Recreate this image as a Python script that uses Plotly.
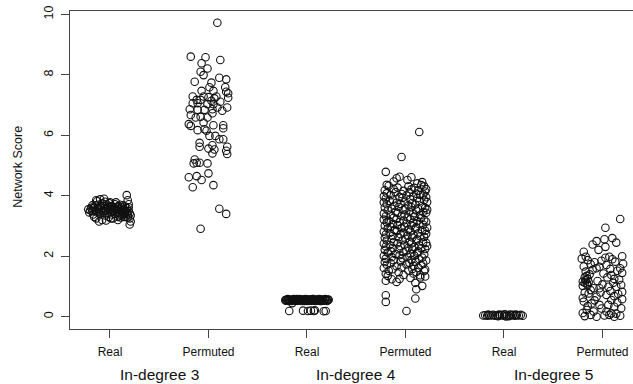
import plotly.graph_objects as go

categories = ["Real", "Permuted", "Real", "Permuted", "Real", "Permuted"]
groups = ["In-degree 3", "In-degree 4", "In-degree 5"]
y_ticks = [0, 2, 4, 6, 8, 10]

# (jitter in category units, network score)
real3 = [(-0.22,3.55),(-0.21,3.45),(-0.19,3.6),(-0.18,3.5),(-0.17,3.38),(-0.16,3.62),(-0.15,3.52),(-0.14,3.25),
         (-0.13,3.45),(-0.12,3.7),(-0.11,3.58),(-0.10,3.4),(-0.09,3.65),(-0.08,3.75),(-0.08,3.2),(-0.07,3.5),
         (-0.06,3.6),(-0.05,3.35),(-0.05,3.8),(-0.04,3.55),(-0.03,3.7),(-0.02,3.45),(-0.02,3.62),(-0.01,3.3),
         (0.0,3.55),(0.0,3.78),(0.01,3.45),(0.02,3.65),(0.03,3.25),(0.03,3.5),(0.04,3.6),(0.05,3.4),(0.05,3.72),
         (0.06,3.55),(0.07,3.48),(0.08,3.65),(0.08,3.3),(0.09,3.58),(0.10,3.42),(0.10,3.7),(0.11,3.5),(0.12,3.62),
         (0.12,3.35),(0.13,3.45),(0.14,3.55),(0.14,3.3),(0.15,3.65),(0.15,3.4),(0.16,3.5),(0.16,3.3),(0.17,4.02),
         (0.17,3.6),(0.18,3.85),(0.18,3.38),(0.19,3.72),(0.19,3.5),(0.20,3.25),(0.20,3.42),(0.20,3.05),(0.21,3.35),
         (0.21,3.15),(-0.13,3.82),(-0.14,3.85),(-0.10,3.88),(-0.06,3.9),(-0.11,3.15),(-0.04,3.18),(-0.16,3.3),
         (-0.18,3.68),(0.06,3.78),(0.01,3.25),(0.08,3.2),(0.11,3.28),(-0.03,3.6),(-0.07,3.45),
         (-0.20,3.52),(-0.15,3.68),(-0.12,3.55),(-0.09,3.48),(-0.06,3.72),(-0.03,3.42),(0.00,3.65),(0.02,3.38),
         (0.04,3.52),(0.07,3.62),(0.09,3.45),(0.11,3.58),(0.13,3.68),(0.15,3.52),(0.17,3.45),(0.18,3.28),
         (-0.10,3.62),(-0.05,3.5),(0.05,3.58),(0.10,3.35),(-0.17,3.58),(-0.01,3.75),(0.13,3.4),(0.19,3.62)]

perm3 = [(0.09,9.72),(-0.18,8.60),(-0.03,8.58),(0.12,8.49),(-0.07,8.38),(-0.01,8.21),(-0.08,8.10),(-0.05,7.99),
         (0.11,7.90),(0.18,7.85),(-0.14,7.77),(0.03,7.74),(0.01,7.59),(0.17,7.59),(0.05,7.47),(-0.07,7.47),
         (0.18,7.44),(0.20,7.39),(-0.16,7.28),(-0.05,7.28),(0.00,7.26),(0.08,7.28),(-0.12,7.17),(-0.08,7.17),
         (0.03,7.14),(0.06,7.22),(0.20,7.24),(0.12,7.11),(-0.16,7.06),(-0.11,7.06),(-0.01,7.03),(0.05,7.03),
         (0.09,6.92),(0.19,6.92),(-0.19,6.86),(-0.11,6.84),(-0.04,6.84),(0.04,6.86),(0.14,6.81),(-0.18,6.67),
         (-0.08,6.61),(-0.13,6.59),(-0.01,6.59),(0.04,6.73),(-0.05,6.42),(-0.20,6.37),(-0.18,6.31),(-0.11,6.17),
         (-0.04,6.20),(0.05,6.33),(0.15,6.33),(-0.02,6.15),(0.15,6.23),(0.01,5.98),(0.07,5.98),(0.11,5.87),
         (0.15,5.87),(-0.09,5.75),(-0.09,5.62),(0.04,5.67),(0.00,5.56),(0.06,5.53),(0.19,5.62),(0.18,5.49),
         (0.19,5.38),(0.04,5.40),(-0.14,5.20),(-0.15,5.07),(-0.09,5.09),(-0.12,5.09),(-0.01,5.07),(-0.20,4.61),
         (-0.12,4.65),(-0.07,4.52),(0.00,4.74),(0.05,4.35),(-0.16,4.28),(0.11,3.57),(0.18,3.40),(-0.08,2.91)]

real4 = [(-0.22,0.55),(-0.21,0.56),(-0.20,0.54),(-0.19,0.57),(-0.18,0.55),(-0.17,0.53),(-0.16,0.56),(-0.15,0.55),
         (-0.14,0.57),(-0.13,0.54),(-0.12,0.55),(-0.11,0.56),(-0.10,0.53),(-0.09,0.57),(-0.08,0.55),(-0.07,0.54),
         (-0.06,0.56),(-0.05,0.55),(-0.04,0.57),(-0.03,0.53),(-0.02,0.55),(-0.01,0.56),(0.00,0.54),(0.01,0.57),
         (0.02,0.55),(0.03,0.53),(0.04,0.56),(0.05,0.55),(0.06,0.57),(0.07,0.54),(0.08,0.55),(0.09,0.56),
         (0.10,0.53),(0.11,0.57),(0.12,0.55),(0.13,0.54),(0.14,0.56),(0.15,0.55),(0.16,0.57),(0.17,0.53),
         (0.18,0.55),(0.19,0.56),(0.20,0.54),(0.21,0.55),(0.22,0.56),
         (-0.215,0.53),(-0.195,0.58),(-0.175,0.56),(-0.155,0.52),(-0.135,0.58),(-0.115,0.53),(-0.095,0.55),
         (-0.075,0.58),(-0.055,0.52),(-0.035,0.56),(-0.015,0.58),(0.005,0.52),(0.025,0.57),(0.045,0.53),
         (0.065,0.58),(0.085,0.52),(0.105,0.56),(0.125,0.58),(0.145,0.52),(0.165,0.55),(0.185,0.58),
         (0.205,0.52),(0.215,0.57),(-0.185,0.52),(-0.105,0.58),(-0.025,0.52),(0.055,0.58),(0.135,0.52),
         (-0.15,0.45),
         (-0.18,0.19),(-0.04,0.20),(0.01,0.19),(0.04,0.20),(0.07,0.19),(0.08,0.21),(0.17,0.18),(0.19,0.19)]

perm4 = [(0.14,6.11),(-0.04,5.28),(-0.20,4.79),(0.06,4.61),(-0.06,4.63),(-0.09,4.58),(0.17,4.45),(-0.19,4.36),
         (0.12,4.41),(0.02,4.52),(-0.12,4.47),(0.19,4.31),(0.21,4.22),
         (-0.17,4.33),(-0.08,4.27),(0.03,4.31),(0.09,4.26),(0.16,4.35),
         (-0.21,4.18),(-0.12,4.22),(-0.02,4.16),(0.06,4.21),(0.13,4.17),(0.20,4.14),
         (-0.19,4.08),(-0.10,4.12),(-0.04,4.06),(0.04,4.11),(0.11,4.07),(0.18,4.04),
         (-0.22,3.98),(-0.15,4.02),(-0.06,3.96),(0.01,4.01),(0.08,3.97),(0.15,4.03),(0.21,3.95),
         (-0.20,3.91),(-0.13,3.87),(-0.03,3.93),(0.05,3.88),(0.12,3.92),(0.19,3.86),
         (-0.22,3.78),(-0.16,3.83),(-0.09,3.77),(-0.01,3.81),(0.07,3.76),(0.14,3.82),(0.22,3.79),
         (-0.19,3.72),(-0.11,3.67),(-0.05,3.73),(0.03,3.68),(0.10,3.71),(0.17,3.66),
         (-0.21,3.61),(-0.14,3.57),(-0.07,3.63),(0.00,3.58),(0.06,3.62),(0.13,3.56),(0.20,3.60),
         (-0.18,3.52),(-0.10,3.47),(-0.02,3.53),(0.04,3.48),(0.11,3.51),(0.18,3.46),(0.22,3.54),
         (-0.22,3.41),(-0.15,3.37),(-0.08,3.43),(-0.01,3.38),(0.08,3.42),(0.15,3.36),(0.21,3.44),
         (-0.20,3.32),(-0.12,3.27),(-0.04,3.33),(0.02,3.28),(0.09,3.31),(0.16,3.26),
         (-0.22,3.21),(-0.17,3.17),(-0.09,3.23),(-0.02,3.18),(0.05,3.22),(0.12,3.16),(0.19,3.20),
         (-0.19,3.12),(-0.13,3.07),(-0.06,3.13),(0.01,3.08),(0.08,3.11),(0.14,3.06),(0.21,3.14),
         (-0.21,3.01),(-0.15,2.97),(-0.08,3.03),(-0.01,2.98),(0.06,3.02),(0.11,2.96),(0.18,3.04),
         (-0.18,2.92),(-0.11,2.87),(-0.04,2.93),(0.03,2.88),(0.10,2.91),(0.17,2.86),(0.22,2.94),
         (-0.22,2.81),(-0.16,2.77),(-0.09,2.83),(-0.02,2.78),(0.05,2.82),(0.13,2.76),(0.20,2.84),
         (-0.20,2.72),(-0.13,2.67),(-0.05,2.73),(0.02,2.68),(0.08,2.71),(0.15,2.66),(0.21,2.74),
         (-0.21,2.61),(-0.14,2.57),(-0.07,2.63),(0.00,2.58),(0.07,2.62),(0.12,2.56),(0.19,2.64),
         (-0.19,2.52),(-0.12,2.47),(-0.03,2.53),(0.04,2.48),(0.11,2.51),(0.18,2.46),
         (-0.22,2.41),(-0.16,2.37),(-0.08,2.43),(-0.01,2.38),(0.06,2.42),(0.14,2.36),(0.21,2.44),
         (-0.20,2.32),(-0.13,2.27),(-0.05,2.33),(0.03,2.28),(0.09,2.31),(0.16,2.26),(0.22,2.34),
         (-0.21,2.21),(-0.15,2.17),(-0.07,2.23),(0.01,2.18),(0.07,2.22),(0.13,2.16),(0.20,2.24),
         (-0.18,2.12),(-0.10,2.07),(-0.02,2.13),(0.05,2.08),(0.12,2.11),(0.19,2.06),
         (-0.22,2.01),(-0.14,1.97),(-0.06,2.03),(0.02,1.98),(0.09,2.02),(0.17,1.96),
         (-0.20,1.92),(-0.12,1.87),(-0.03,1.93),(0.06,1.88),(0.14,1.91),(0.21,1.86),
         (-0.21,1.81),(-0.15,1.77),(-0.05,1.83),(0.04,1.78),(0.10,1.82),(0.18,1.76),
         (-0.19,1.72),(-0.09,1.67),(0.01,1.73),(0.08,1.68),(0.16,1.71),
         (-0.22,1.61),(-0.13,1.57),(-0.04,1.63),(0.07,1.58),(0.13,1.62),(0.20,1.56),
         (-0.17,1.52),(-0.07,1.47),(0.03,1.53),(0.11,1.48),(0.19,1.51),
         (-0.20,1.42),(-0.02,1.38),(0.08,1.43),(0.15,1.37),
         (-0.20,1.19),(-0.14,1.24),(-0.06,1.25),(0.05,1.28),(0.10,1.12),(0.17,1.02),(0.11,0.91),(-0.20,0.71),
         (-0.20,0.49),(0.10,0.60),(0.01,0.19),(0.15,1.30),(0.20,1.33),(-0.18,1.35),(-0.09,1.15)]

real5 = [(-0.21,0.04),(-0.19,0.05),(-0.17,0.03),(-0.15,0.05),(-0.13,0.04),(-0.11,0.06),(-0.09,0.03),(-0.07,0.05),
         (-0.05,0.07),(-0.04,0.04),(-0.02,0.06),(0.00,0.03),(0.01,0.08),(0.03,0.05),(0.05,0.02),(0.07,0.04),
         (0.09,0.06),(0.11,0.03),(0.13,0.05),(0.15,0.04),(0.17,0.06),(0.19,0.03),(-0.06,0.02),(0.02,0.01),
         (0.06,0.07),(-0.16,0.07),(0.12,0.07)]

perm5 = [(0.18,3.23),(0.03,2.94),(0.02,2.56),(-0.06,2.50),(-0.10,2.39),(-0.04,2.21),(0.03,2.31),(-0.19,2.15),
         (0.10,2.60),(0.14,2.45),(0.20,2.00),
         (-0.17,1.98),(-0.15,1.87),(-0.12,1.74),(-0.01,1.85),(0.07,1.98),(0.13,1.82),(0.18,1.60),(0.04,1.71),
         (-0.06,1.60),(-0.17,1.49),(0.01,1.43),(0.09,1.38),(-0.20,1.16),(-0.16,1.10),(-0.09,0.94),(-0.03,0.94),
         (0.06,0.99),(0.14,0.99),(-0.14,0.77),(-0.06,0.66),(0.04,0.72),(0.12,0.68),(-0.19,0.50),(-0.11,0.44),
         (-0.03,0.39),(0.06,0.39),(0.12,0.33),(-0.16,0.22),(-0.09,0.17),(0.04,0.17),(0.09,0.11),(-0.18,0.02),
         (-0.06,0.00),(0.07,0.06),(0.18,0.03),
         (-0.21,1.92),(0.10,1.90),(0.21,1.75),(-0.08,1.80),(-0.19,1.66),(0.15,1.52),(-0.10,1.55),(0.20,1.45),
         (-0.13,1.40),(0.05,1.30),(-0.18,1.30),(-0.15,1.25),(-0.17,1.20),(-0.14,1.15),(0.17,1.22),(-0.05,1.18),
         (0.11,1.12),(0.19,1.05),(-0.20,1.02),(0.00,1.07),(-0.12,0.88),(0.08,0.85),(0.20,0.82),(-0.18,0.80),
         (0.16,0.75),(-0.02,0.80),(-0.20,0.62),(0.20,0.58),(0.09,0.55),(-0.08,0.54),(0.15,0.47),(-0.15,0.35),
         (0.19,0.28),(-0.01,0.27),(-0.20,0.12),(0.14,0.10),(-0.12,0.06),(0.02,0.04),(0.12,0.00),(-0.15,1.05),
         (-0.18,1.12),(-0.16,1.35),(0.08,1.58),(0.03,1.95),(-0.03,1.65),(0.12,1.25)]

series = [real3, perm3, real4, perm4, real5, perm5]

fig = go.Figure()
for i, pts in enumerate(series):
    pos = i + 1
    fig.add_trace(go.Scatter(
        x=[pos + j for j, _ in pts],
        y=[v for _, v in pts],
        mode="markers",
        marker=dict(symbol="circle-open", size=7.5, color="#111111", line=dict(width=1.1, color="#111111")),
        showlegend=False, hoverinfo="skip",
    ))

font = "Liberation Sans, Arial, sans-serif"
for k, g in enumerate(groups):
    fig.add_annotation(x=1.5 + 2 * k, y=0, xref="x", yref="paper", text=g, showarrow=False,
                       yanchor="middle", yshift=-45, font=dict(family=font, size=15.5, color="#111"))
fig.add_annotation(x=0, y=0.51, xref="paper", yref="paper", text="Network Score", showarrow=False,
                   textangle=-90, xanchor="center", yanchor="middle", xshift=-52,
                   font=dict(family=font, size=12.5, color="#111"))

fig.update_layout(
    width=633, height=384,
    margin=dict(l=70, r=0, t=11, b=55),
    paper_bgcolor="white", plot_bgcolor="white",
    font=dict(family=font, color="#111"),
    xaxis=dict(range=[0.594, 6.31], tickvals=[1, 2, 3, 4, 5, 6], ticktext=categories,
               showgrid=False, zeroline=False, showline=True, linecolor="#444", linewidth=1, mirror=True,
               ticks="outside", ticklen=8, tickcolor="#444", tickfont=dict(size=12, color="#111"),
               ticklabelstandoff=4),
    yaxis=dict(range=[-0.407, 10.11], tickvals=y_ticks, ticktext=[str(t) for t in y_ticks],
               showgrid=False, zeroline=False, showline=True, linecolor="#444", linewidth=1,
               ticks="outside", ticklen=8, tickcolor="#444", tickangle=-90,
               tickfont=dict(size=12.5, color="#111"), ticklabelstandoff=3),
)

fig.write_html("out.html")
